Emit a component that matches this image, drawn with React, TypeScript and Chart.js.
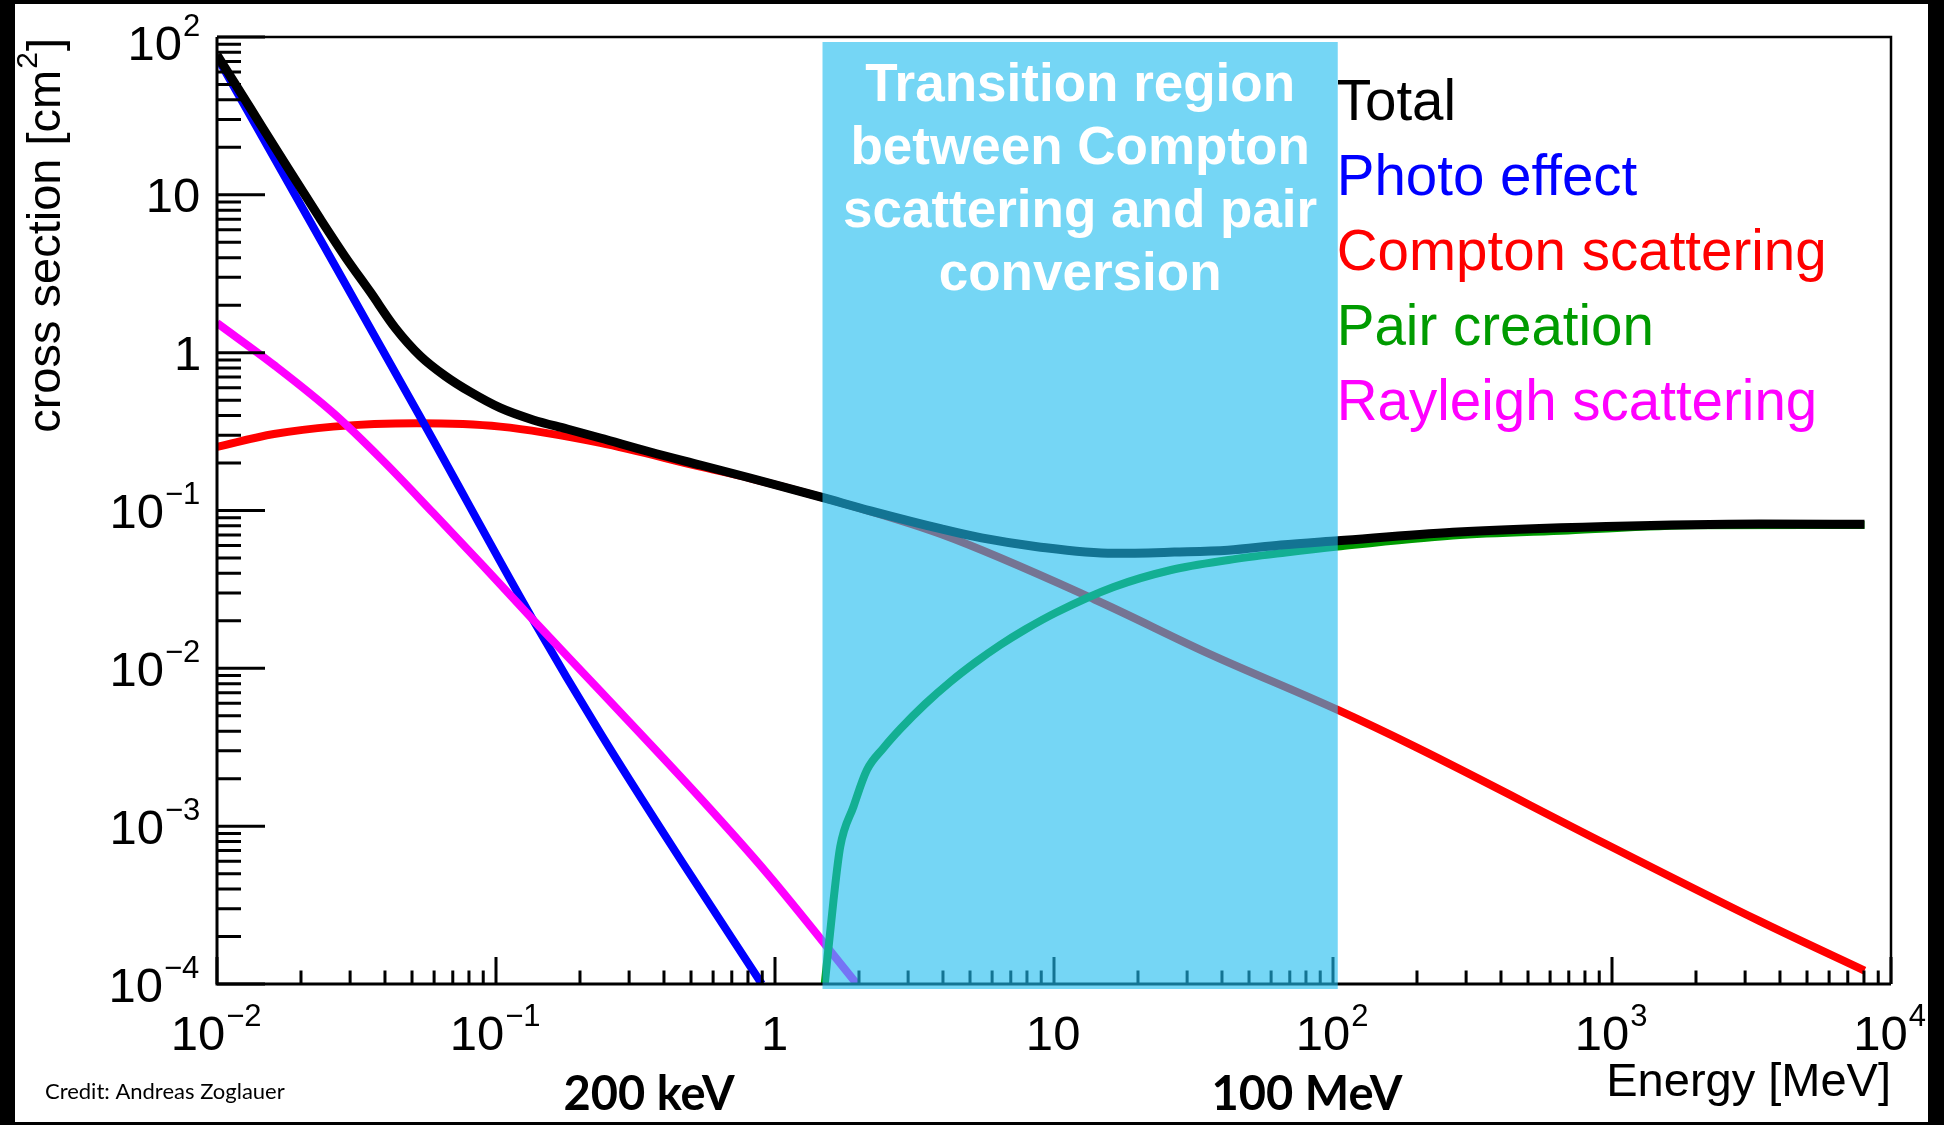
import React, { useEffect, useRef } from "react";
import { Chart, registerables } from "chart.js";

Chart.register(...registerables);

// ---------------- data (energy in MeV, cross section in cm^2) ----------------
const totalEnergy = [0.01, 0.01316, 0.01757, 0.02345, 0.02883, 0.03542, 0.04355, 0.05353, 0.06578, 0.08085, 0.1036, 0.136, 0.18, 0.2364, 0.357, 0.5395, 0.815, 1.476, 2.2, 3.95, 5.5, 8.7, 16.4, 27, 42, 65, 104, 269, 953, 3371, 8035];
const totalValue = [77, 35.5, 15.7, 7.035, 4.042, 2.425, 1.434, 0.953, 0.7116, 0.5636, 0.4463, 0.3747, 0.3284, 0.288, 0.2348, 0.1942, 0.1607, 0.121, 0.0995, 0.0764, 0.067, 0.059, 0.0535, 0.0545, 0.056, 0.0605, 0.0644, 0.0728, 0.0792, 0.0822, 0.0818];

const photoEnergy = [0.01, 0.0234, 0.0558, 0.136, 0.2366, 0.47, 0.897];
const photoValue = [74.8, 5.25, 0.343, 0.0202, 0.00389, 0.000575, 0.0001];

const comptonEnergy = [0.01, 0.016, 0.0261, 0.0521, 0.1035, 0.2363, 0.54, 0.815, 1.476, 3.95, 13.98, 36, 104, 196.6, 953.6, 3371, 8035];
const comptonValue = [0.2535, 0.305, 0.34, 0.357, 0.34, 0.268, 0.1895, 0.16, 0.121, 0.0706, 0.0273, 0.01236, 0.00545, 0.00319, 0.000768, 0.000251, 0.0001216];

const pairEnergy = [1.508, 1.621, 1.713, 1.911, 2.135, 2.448, 2.81, 3.453, 4.245, 5.217, 6.412, 7.881, 10.18, 16.36, 26.27, 42.19, 67.74, 104, 269, 695, 2000, 8035];
const pairValue = [0.0001, 0.00034, 0.00074, 0.00133, 0.002267, 0.003126, 0.004123, 0.00594, 0.00819, 0.01088, 0.01405, 0.01762, 0.02258, 0.03275, 0.04197, 0.04857, 0.05418, 0.05913, 0.0695, 0.0748, 0.0805, 0.081];

const rayleighEnergy = [0.01, 0.01618, 0.02611, 0.03945, 0.05958, 0.09, 0.136, 0.2364, 0.5395, 0.9354, 1.966];
const rayleighValue = [1.542, 0.8234, 0.4148, 0.206, 0.0964, 0.04448, 0.02023, 0.00718, 0.001507, 0.000504, 0.0001];

const seriesLabels = ["Total", "Photo effect", "Compton scattering", "Pair creation", "Rayleigh scattering"];
const seriesColors = ["#000000", "#0000ff", "#ff0000", "#009b00", "#ff00ff"];

const xTickExponents = [-2, -1, 0, 1, 2, 3, 4];
const yTickExponents = [-4, -3, -2, -1, 0, 1, 2];
const minorMultipliers = [2, 3, 4, 5, 6, 7, 8, 9];

const transitionRange = [1.48, 104];
const transitionText = ["Transition region", "between Compton", "scattering and pair", "conversion"];
const energyMarkers = ["200 keV", "100 MeV"];
const creditText = "Credit: Andreas Zoglauer";
const xTitle = "Energy [MeV]";
const yTitle = ["cross section [cm", "2", "]"];

// ---------------- drawing helpers ----------------
const W = 1944;
const H = 1125;
const FONT = '"Liberation Sans", Arial, Helvetica, sans-serif';
const LATO = 'Lato, "Open Sans", sans-serif';

function pts(e: number[], v: number[]) {
  return e.map((x, i) => ({ x, y: v[i] }));
}

function drawPow(ctx: CanvasRenderingContext2D, exp: number, ax: number, by: number, mode: "right" | "center") {
  const body = exp === 0 ? "1" : "10";
  const sup = exp === 0 || exp === 1 ? "" : exp < 0 ? "\u2212" + String(-exp) : String(exp);
  ctx.font = `49px ${FONT}`;
  const bm = ctx.measureText(body);
  ctx.font = `31px ${FONT}`;
  const sm = sup ? ctx.measureText(sup) : null;
  const gap = 1;
  const inkL = -bm.actualBoundingBoxLeft;
  const supX = bm.width + gap;
  const inkR = sm ? supX + sm.actualBoundingBoxRight : bm.actualBoundingBoxRight;
  const ox = mode === "right" ? ax - inkR : ax - (inkL + inkR) / 2;
  ctx.textAlign = "left";
  ctx.textBaseline = "alphabetic";
  ctx.fillStyle = "#000";
  ctx.font = `49px ${FONT}`;
  ctx.fillText(body, ox, by);
  if (sup) {
    ctx.font = `31px ${FONT}`;
    ctx.fillText(sup, ox + supX, by - 24);
  }
}

const decorPlugin = {
  id: "decor",
  beforeDraw(chart: any) {
    const ctx: CanvasRenderingContext2D = chart.ctx;
    ctx.save();
    ctx.fillStyle = "#000";
    ctx.fillRect(0, 0, W, H);
    ctx.fillStyle = "#fff";
    ctx.fillRect(15, 4, 1913, 1118);
    ctx.restore();
  },
  afterDatasetsDraw(chart: any) {
    const ctx: CanvasRenderingContext2D = chart.ctx;
    const a = chart.chartArea;
    const xs = chart.scales.x;
    const ys = chart.scales.y;
    ctx.save();

    // frame
    ctx.strokeStyle = "#000";
    ctx.lineWidth = 3;
    ctx.beginPath();
    ctx.moveTo(a.left, a.top);
    ctx.lineTo(a.left, a.bottom);
    ctx.lineTo(a.right, a.bottom);
    ctx.stroke();
    ctx.lineWidth = 2.5;
    ctx.beginPath();
    ctx.moveTo(a.left, a.top);
    ctx.lineTo(a.right, a.top);
    ctx.lineTo(a.right, a.bottom);
    ctx.stroke();

    // ticks (inside, ROOT style)
    ctx.lineWidth = 3;
    ctx.beginPath();
    for (const e of xTickExponents) {
      const mults = [1, ...minorMultipliers];
      for (const m of mults) {
        const v = m * Math.pow(10, e);
        if (v > xs.max * 1.0001) continue;
        const px = xs.getPixelForValue(v);
        const len = m === 1 ? 27 : 13.5;
        ctx.moveTo(px, a.bottom);
        ctx.lineTo(px, a.bottom - len);
      }
    }
    for (const e of yTickExponents) {
      const mults = [1, ...minorMultipliers];
      for (const m of mults) {
        const v = m * Math.pow(10, e);
        if (v > ys.max * 1.0001) continue;
        const py = ys.getPixelForValue(v);
        const len = m === 1 ? 48 : 24;
        ctx.moveTo(a.left, py);
        ctx.lineTo(a.left + len, py);
      }
    }
    ctx.stroke();

    // tick labels
    for (const e of xTickExponents) {
      const px = xs.getPixelForValue(Math.pow(10, e));
      drawPow(ctx, e, px, a.bottom + 66, "center");
    }
    for (const e of yTickExponents) {
      const py = ys.getPixelForValue(Math.pow(10, e));
      drawPow(ctx, e, a.left - 18, Math.max(py + 17.5, 60), "right");
    }

    // axis titles
    ctx.fillStyle = "#000";
    ctx.textBaseline = "alphabetic";
    ctx.font = `47px ${FONT}`;
    ctx.textAlign = "right";
    ctx.fillText(xTitle, a.right, 1096);

    ctx.save();
    ctx.translate(60, a.top + 1);
    ctx.rotate(-Math.PI / 2);
    ctx.textAlign = "left";
    ctx.font = `47px ${FONT}`;
    const w1 = ctx.measureText(yTitle[0]).width;
    const w3 = ctx.measureText(yTitle[2]).width;
    ctx.font = `30px ${FONT}`;
    const w2 = ctx.measureText(yTitle[1]).width;
    const total = w1 + w2 + w3 + 2;
    let cx = -total;
    ctx.font = `47px ${FONT}`;
    ctx.fillText(yTitle[0], cx, 0);
    cx += w1 + 1;
    ctx.font = `30px ${FONT}`;
    ctx.fillText(yTitle[1], cx, -23);
    cx += w2 + 1;
    ctx.font = `47px ${FONT}`;
    ctx.fillText(yTitle[2], cx, 0);
    ctx.restore();

    // legend (plain coloured texts)
    ctx.textAlign = "left";
    ctx.font = `56.5px ${FONT}`;
    const lx = xs.getPixelForValue(transitionRange[1]) - 1;
    chart.data.datasets.forEach((ds: any, i: number) => {
      ctx.fillStyle = ds.borderColor;
      ctx.fillText(ds.label, lx, 120 + i * 75);
    });

    // transition overlay
    const xl = xs.getPixelForValue(transitionRange[0]);
    const xr = xs.getPixelForValue(transitionRange[1]);
    ctx.fillStyle = "rgba(31,189,239,0.616)";
    ctx.fillRect(xl, a.top + 5, xr - xl, a.bottom - a.top);

    ctx.fillStyle = "#ffffff";
    ctx.font = `bold 53px ${FONT}`;
    ctx.textAlign = "center";
    const cxm = (xl + xr) / 2;
    transitionText.forEach((t, i) => {
      ctx.fillText(t, cxm, 101 + i * 63);
    });

    // slide annotations
    ctx.fillStyle = "#000";
    ctx.font = `bold 47px ${LATO}`;
    ctx.textAlign = "center";
    ctx.fillText(energyMarkers[0], 649, 1110);
    ctx.fillText(energyMarkers[1], 1307, 1110);

    ctx.font = `22px ${LATO}`;
    ctx.textAlign = "left";
    ctx.fillText(creditText, 45, 1099);

    ctx.restore();
  },
};

export default function App() {
  const ref = useRef<HTMLCanvasElement>(null);

  useEffect(() => {
    const canvas = ref.current;
    if (!canvas) return;
    const seriesData = [
      pts(totalEnergy, totalValue),
      pts(photoEnergy, photoValue),
      pts(comptonEnergy, comptonValue),
      pts(pairEnergy, pairValue),
      pts(rayleighEnergy, rayleighValue),
    ];
    const drawOrder = [0, 3, 4, 1, 2];
    const widths = [9, 8, 8, 8, 8];
    const chart = new Chart(canvas, {
      type: "line",
      data: {
        datasets: seriesData.map((d, i) => ({
          label: seriesLabels[i],
          data: d,
          borderColor: seriesColors[i],
          backgroundColor: seriesColors[i],
          borderWidth: widths[i],
          order: drawOrder[i],
          pointRadius: 0,
          fill: false,
          cubicInterpolationMode: "monotone" as const,
          borderJoinStyle: "round" as const,
        })),
      },
      options: {
        responsive: false,
        maintainAspectRatio: false,
        animation: false,
        events: [],
        layout: { padding: { left: 217, top: 37, right: 53, bottom: 141 } },
        plugins: { legend: { display: false }, tooltip: { enabled: false } },
        scales: {
          x: { type: "logarithmic", min: 0.01, max: 10000, display: false },
          y: { type: "logarithmic", min: 0.0001, max: 100, display: false },
        },
      },
      plugins: [decorPlugin],
    } as any);
    return () => chart.destroy();
  }, []);

  return (
    <div style={{ position: "fixed", left: 0, top: 0, width: W, height: H, background: "#000" }}>
      <canvas ref={ref} width={W} height={H} style={{ display: "block", width: W, height: H }} />
    </div>
  );
}
